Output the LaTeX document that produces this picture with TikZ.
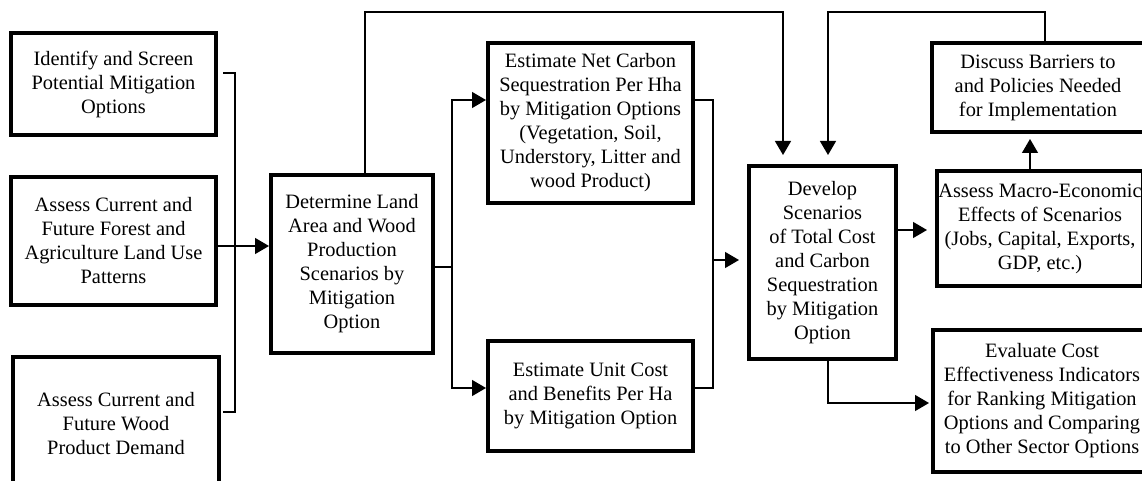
\documentclass[tikz,border=0pt]{standalone}
\usepackage{fontspec}
\setmainfont{Liberation Serif}
\usetikzlibrary{arrows.meta,calc}

\begin{document}
\begin{tikzpicture}[x=1pt, y=-1pt, >={Triangle[length=14pt,width=16pt]},
    box/.style={draw, line width=4pt, inner sep=0pt, align=center,
                font=\fontsize{20.4}{24}\selectfont},
    arr/.style={->, line width=1.3pt},
    link/.style={line width=1.3pt}]
    \useasboundingbox (0,0) rectangle (1142,481);
    \clip (0,0) rectangle (1142,481);

    % Left column of inputs
    \node[box, minimum width=205pt, minimum height=102pt] (ident) at (113.5,84)
        {Identify and Screen\\Potential Mitigation\\Options};
    \node[box, minimum width=205pt, minimum height=128pt] (landuse) at (113.5,241)
        {Assess Current and\\Future Forest and\\Agriculture Land Use\\Patterns};
    \node[box, minimum width=206pt, minimum height=133pt] (demand) at (116,423.5)
        {Assess Current and\\Future Wood\\Product Demand};

    % Middle steps
    \node[box, minimum width=162pt, minimum height=178pt] (landarea) at (352,264)
        {Determine Land\\Area and Wood\\Production\\Scenarios by\\Mitigation\\Option};
    \node[box, minimum width=205pt, minimum height=160pt] (netcarbon) at (590.5,123)
        {Estimate Net Carbon\\Sequestration Per Hha\\by Mitigation Options\\(Vegetation, Soil,\\Understory, Litter and\\wood Product)};
    \node[box, minimum width=205pt, minimum height=110pt] (unitcost) at (590.5,396)
        {Estimate Unit Cost\\and Benefits Per Ha\\by Mitigation Option};
    \node[box, minimum width=147pt, minimum height=193pt] (develop) at (822.5,262.5)
        {Develop\\Scenarios\\of Total Cost\\and Carbon\\Sequestration\\by Mitigation\\Option};

    % Right column of outputs
    \node[box, minimum width=212pt, minimum height=89pt] (barriers) at (1038,87.5)
        {Discuss Barriers to\\and Policies Needed\\for Implementation};
    \node[box, minimum width=206pt, minimum height=115pt] (macro) at (1040,228.5)
        {Assess Macro-Economic\\Effects of Scenarios\\(Jobs, Capital, Exports,\\GDP, etc.)};
    \node[box, minimum width=218pt, minimum height=142pt] (costeff) at (1042,401)
        {Evaluate Cost\\Effectiveness Indicators\\for Ranking Mitigation\\Options and Comparing\\to Other Sector Options};

    % Junction points
    \coordinate (inJoin) at (235,246);
    \coordinate (split) at (452,267);
    \coordinate (merge) at (713,260);

    % Inputs bracket into land area
    \draw[link] ($(ident.east)+(5,-11)$) -| (inJoin);
    \draw[link] ($(demand.east)+(2,-11.5)$) -| (inJoin);
    \draw[arr] (landuse.east |- inJoin) -- (landarea.west |- inJoin);

    % Split to the two estimates
    \draw[link] (landarea.east |- split) -- (split);
    \draw[arr] (split) |- ($(netcarbon.west)+(0,-23)$);
    \draw[arr] (split) |- ($(unitcost.west)+(0,-8)$);

    % Merge into develop
    \draw[link] ($(netcarbon.east)+(0,-23)$) -| (merge);
    \draw[link] ($(unitcost.east)+(0,-8)$) -| (merge);
    \draw[arr, shorten >=8pt] (merge) -- (develop.west |- merge);

    % Feedback lines over the top
    \draw[arr, shorten >=9pt] ($(landarea.north)+(13,0)$) -- ++(0,-161)
        -| ($(develop.north)+(-39.5,0)$);
    \draw[arr, shorten >=9pt] ($(barriers.north)+(7,0)$) -- ++(0,-29)
        -| ($(develop.north)+(5.5,0)$);

    % Outputs of develop
    \draw[arr, shorten >=8pt] ($(develop.east)+(0,-32.5)$) -- (macro.west |- {$(develop.east)+(0,-32.5)$});
    \draw[arr, shorten >=5pt] ($(macro.north)+(-10,0)$) -- (barriers.south -| {$(macro.north)+(-10,0)$});
    \draw[arr, shorten >=2pt] ($(develop.south)+(5.5,0)$) |- ($(costeff.west)+(0,2)$);
\end{tikzpicture}
\end{document}
